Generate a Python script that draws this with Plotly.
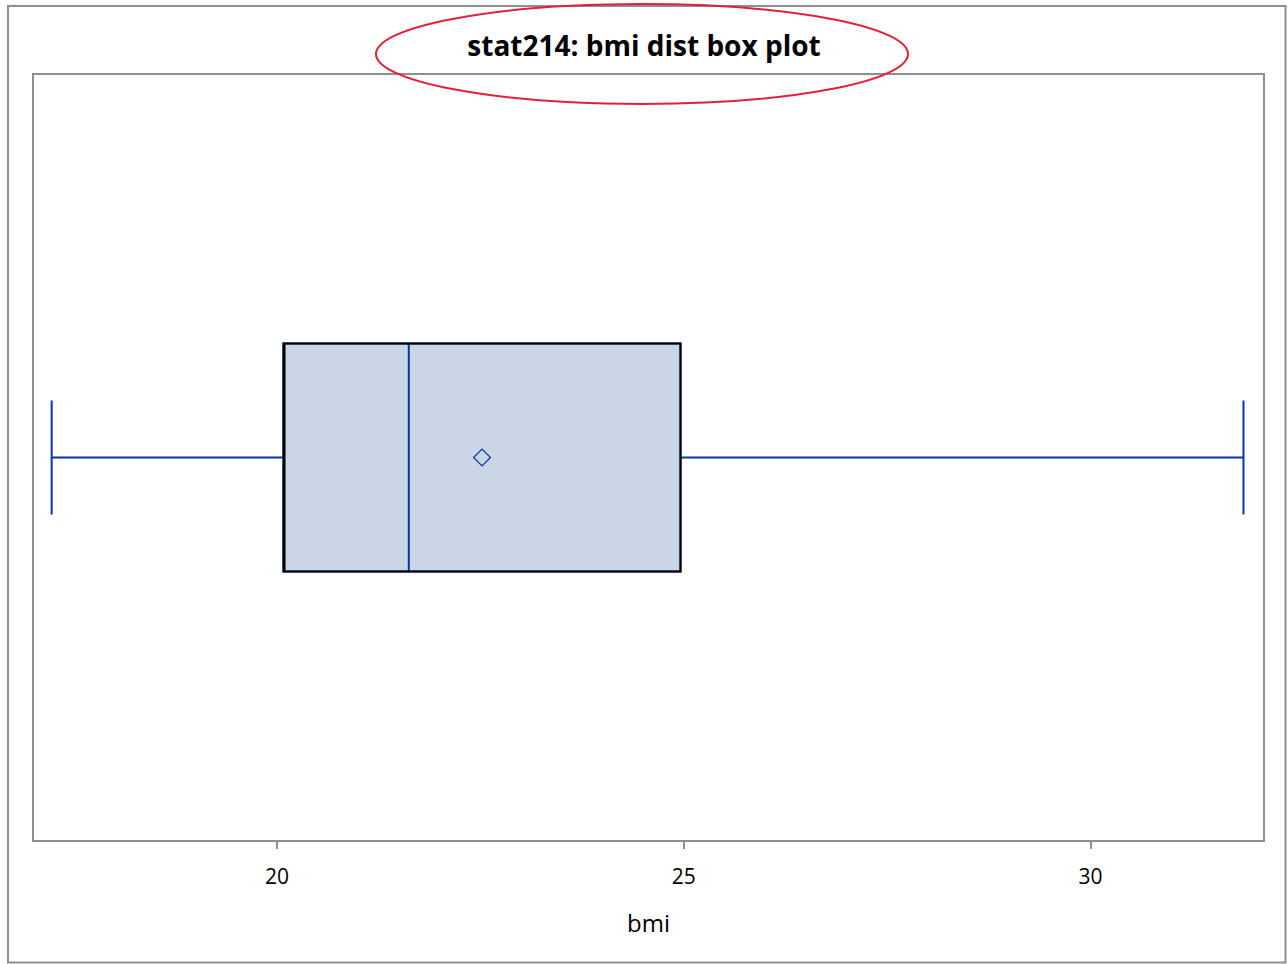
import plotly.graph_objects as go

# Summary statistics
variable = "bmi"
q1 = [20.08]
median = [21.62]
q3 = [24.96]
lower_whisker = [17.23]
upper_whisker = [31.88]
mean = [22.52]
x_range = [17.013, 32.12]
tick_vals = [20, 25, 30]
tick_text = ["20", "25", "30"]
title_text = "stat214: bmi dist box plot"

BLUE = "#0A34A0"
FILL = "#CAD5E5"
GRAY = "#8F8F8F"

fig = go.Figure()

# Blue layer: whiskers, caps, median
fig.add_trace(go.Box(
    y=[0], q1=q1, median=median, q3=q3,
    lowerfence=lower_whisker, upperfence=upper_whisker,
    orientation="h", width=0.298, whiskerwidth=0.5,
    fillcolor=FILL, line=dict(color=BLUE, width=2),
    boxpoints=False, showlegend=False, hoverinfo="skip",
))
# Black outline of the box
fig.add_trace(go.Box(
    y=[0], q1=q1, median=q1, q3=q3,
    lowerfence=q1, upperfence=q3,
    orientation="h", width=0.298, whiskerwidth=0,
    fillcolor="rgba(0,0,0,0)", line=dict(color="black", width=2),
    boxpoints=False, showlegend=False, hoverinfo="skip",
))
# Mean marker
fig.add_trace(go.Scatter(
    x=mean, y=[0], mode="markers",
    marker=dict(symbol="diamond-open", size=13, color=BLUE, line=dict(width=1.2, color=BLUE)),
    showlegend=False, hoverinfo="skip",
))

L, R, T, B = 34, 25, 75, 124
W, H = 1288, 964
pw, ph = W - L - R, H - T - B

def px2paper_x(px):
    return (px - L) / pw

def px2paper_y(py):
    return (H - B - py) / ph

fig.update_layout(
    width=W, height=H,
    margin=dict(l=L, r=R, t=T, b=B),
    paper_bgcolor="white", plot_bgcolor="white",
    font=dict(family="Open Sans", color="black"),
    boxmode="overlay",
    title=dict(text=f"<b>{title_text}</b>", x=0.5, xanchor="center",
               y=1 - 46 / H, yanchor="middle",
               font=dict(size=28, family="Open Sans", color="black")),
    xaxis=dict(range=x_range, tickvals=tick_vals, ticktext=tick_text,
               showgrid=False, zeroline=False,
               showline=True, mirror=True, linecolor=GRAY, linewidth=2,
               ticks="outside", ticklen=7, tickwidth=1.5, tickcolor=GRAY,
               ticklabelstandoff=10,
               tickfont=dict(size=21, color="black"),
               title=dict(text=variable, font=dict(size=24, color="black"), standoff=26)),
    yaxis=dict(range=[-0.5, 0.5], showticklabels=False, ticks="",
               showgrid=False, zeroline=False,
               showline=True, mirror=True, linecolor=GRAY, linewidth=2),
    shapes=[
        # outer frame
        dict(type="rect", xref="paper", yref="paper",
             x0=px2paper_x(8), x1=px2paper_x(1285.5),
             y0=px2paper_y(962.5), y1=px2paper_y(6),
             line=dict(color=GRAY, width=2), fillcolor="rgba(0,0,0,0)", layer="below"),
        # red ellipse around title
        dict(type="circle", xref="paper", yref="paper",
             x0=px2paper_x(376), x1=px2paper_x(908),
             y0=px2paper_y(104), y1=px2paper_y(4),
             line=dict(color="#E3203A", width=2), fillcolor="rgba(0,0,0,0)"),
    ],
)

fig.write_html("out.html")
